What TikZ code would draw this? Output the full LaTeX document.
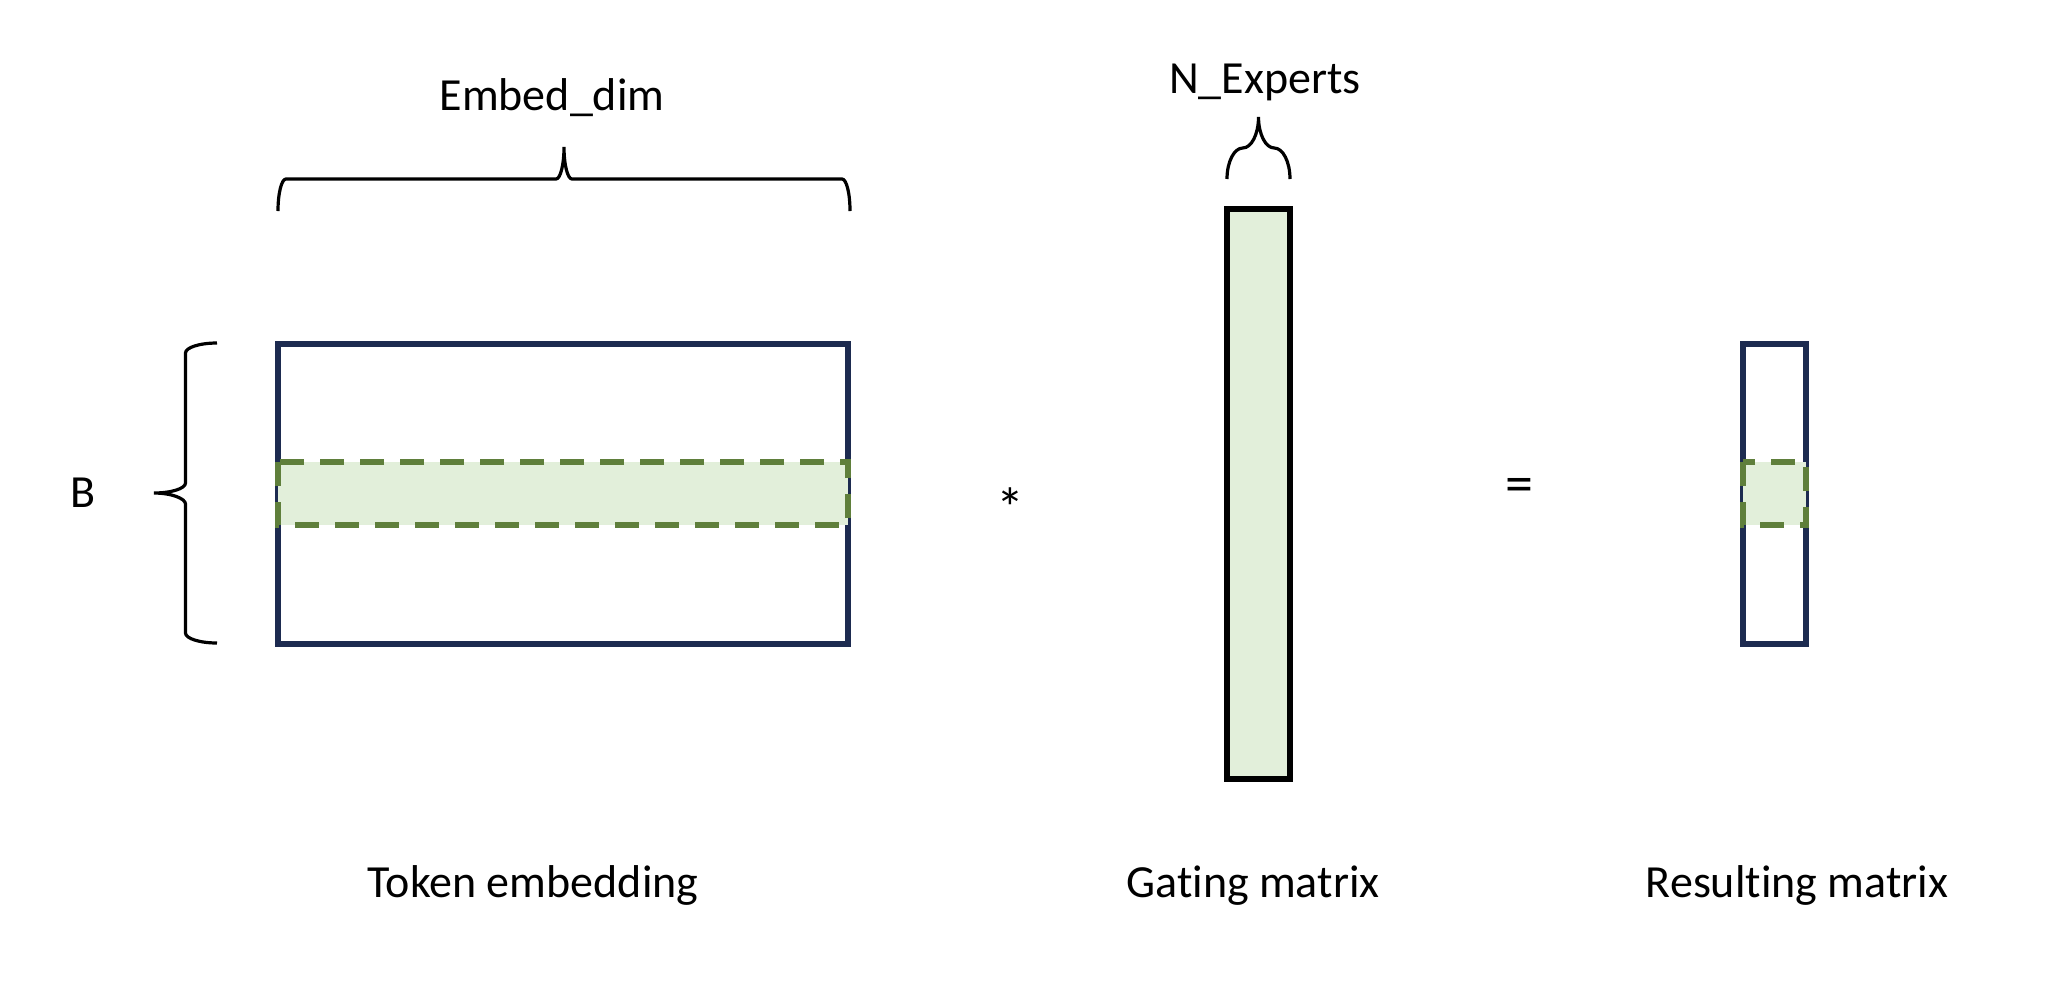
\documentclass[tikz,border=0pt]{standalone}
\usepackage{fontspec}
\setmainfont[Ligatures={NoCommon,NoContextual},RawFeature={-liga;-clig;-dlig}]{Carlito}
\definecolor{mblue}{RGB}{29,43,80}
\definecolor{mgreen}{RGB}{95,127,59}
\definecolor{mfill}{RGB}{226,239,218}
\begin{document}
\begin{tikzpicture}[x=0.5pt,y=-0.5pt,
  bluebox/.style={draw=mblue,line width=3pt,fill=white},
  greenband/.style={draw=mgreen,fill=mfill,line width=3pt,dash pattern=on 12pt off 8pt},
  gatebox/.style={draw=black,fill=mfill,line width=3pt},
  brace/.style={draw=black,line width=1.6pt},
  lbl/.style={inner sep=0pt,anchor=base,font=\fontsize{23pt}{28pt}\selectfont},
  opsym/.style={inner sep=0pt,anchor=base,font=\fontsize{28pt}{32pt}\selectfont}]
\useasboundingbox (0,0) rectangle (2054,986);
% token embedding
\draw[bluebox] (278,344) rectangle (848,644);
\draw[greenband] (278,462) rectangle (848,525);
% gating matrix
\draw[gatebox] (1227,209) rectangle (1290,779);
% resulting matrix
\draw[bluebox] (1743,344) rectangle (1806,644);
\draw[greenband] (1743,462) rectangle (1806,525);
% braces
\draw[brace] (278,211) .. controls (278,193) and (281.6,179) .. (286,179) -- (556,179)
  .. controls (560.4,179) and (564,164.7) .. (564,147)
  .. controls (564,164.7) and (567.6,179) .. (572,179) -- (842,179)
  .. controls (846.4,179) and (850,193) .. (850,211);
\draw[brace] (217,343) .. controls (199.6,343) and (185.5,347.5) .. (185.5,353) -- (185.5,483)
  .. controls (185.5,488.5) and (171.4,493) .. (154,493)
  .. controls (171.4,493) and (185.5,498.5) .. (185.5,504) -- (185.5,633)
  .. controls (185.5,638.5) and (199.6,643) .. (217,643);
\draw[brace] (1227,179) .. controls (1227,161.9) and (1234.05,148) .. (1242.75,148)
  .. controls (1251.45,148) and (1258.5,134.1) .. (1258.5,117)
  .. controls (1258.5,134.1) and (1265.55,148) .. (1274.25,148)
  .. controls (1282.95,148) and (1290,161.9) .. (1290,179);
% texts
\node[lbl] (embed) at (552,110) {Embed\_dim};
\node[lbl] (nexp) at (1265,93) {N\_Experts};
\node[lbl] (bb) at (83.5,507) {B};
\node[opsym] (times) at (1010,527) {*};
\node[opsym] (eq) at (1519,502) {=};
\node[lbl] (tok) at (533,897) {Token embedding};
\node[lbl] (gate) at (1253,897) {Gating matrix};
\node[lbl] (res) at (1797,897) {Resulting matrix};
\end{tikzpicture}
\end{document}
